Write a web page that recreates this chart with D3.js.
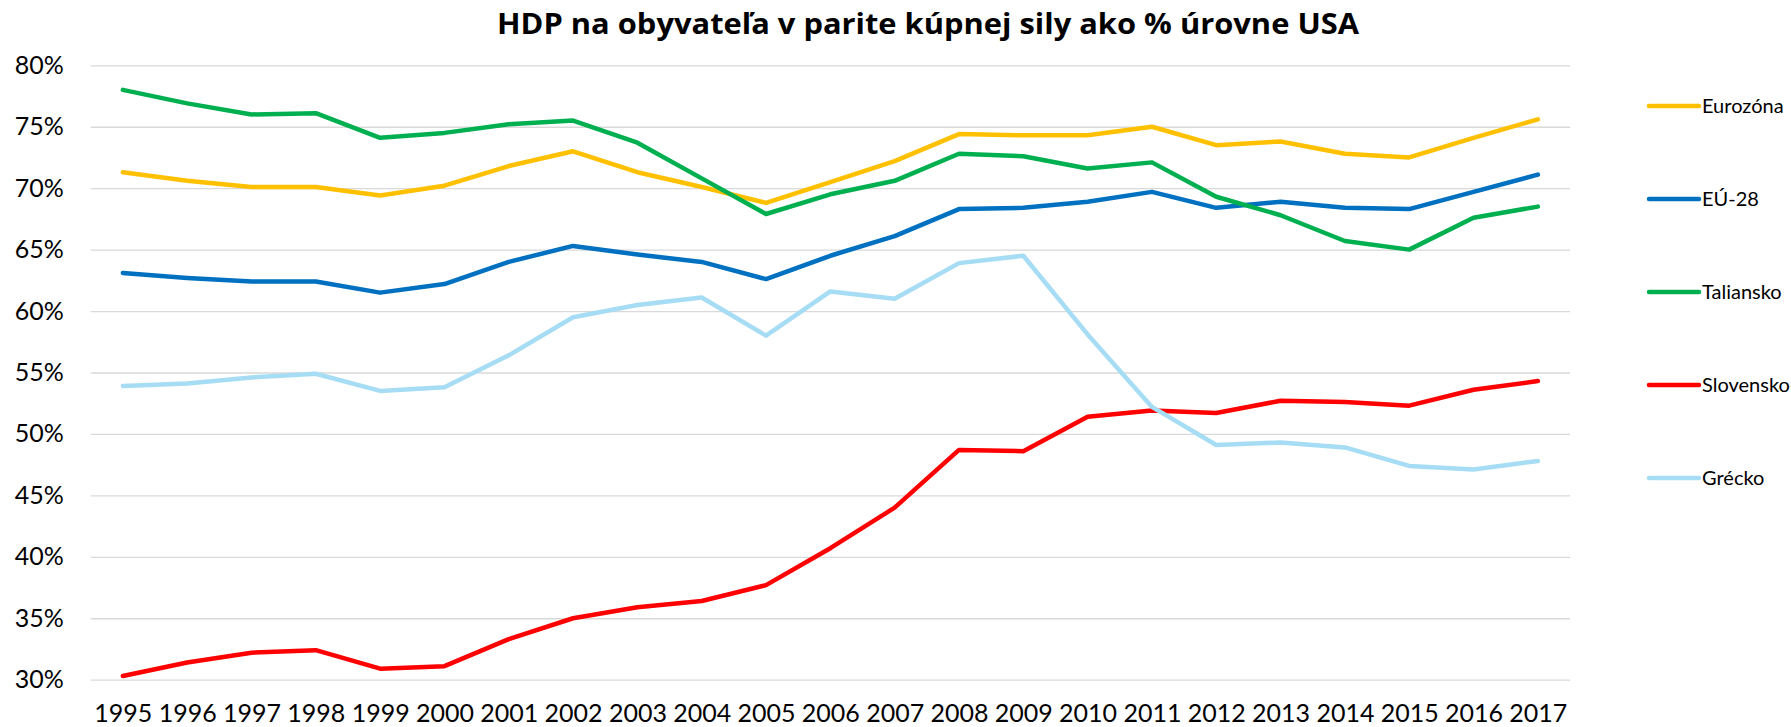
<!DOCTYPE html>
<html lang="sk">

<head>
    <meta charset="utf-8">
    <title>HDP na obyvateľa</title>
    <style>
        body {
            margin: 0;
            background: #fff;
        }

        svg text {
            font-family: Lato, "Open Sans", sans-serif;
            fill: #000;
        }

        .grid line {
            stroke: #d9d9d9;
            stroke-width: 1.3;
        }

        .series {
            fill: none;
            stroke-width: 4.5;
            stroke-linejoin: round;
            stroke-linecap: round;
        }
    </style>
</head>

<body>
    <div id="chart"></div>
    <script src="https://cdn.jsdelivr.net/npm/d3@7"></script>
    <script>
        // values (% of US level)
        var years = ['1995', '1996', '1997', '1998', '1999', '2000', '2001', '2002', '2003', '2004', '2005', '2006',
            '2007', '2008', '2009', '2010', '2011', '2012', '2013', '2014', '2015', '2016', '2017'];
        var eurozona = [71.3, 70.6, 70.1, 70.1, 69.4, 70.2, 71.8, 73.0, 71.3, 70.1, 68.8, 70.5, 72.2, 74.4, 74.3, 74.3, 75.0, 73.5, 73.8, 72.8, 72.5, 74.1, 75.6];
        var eu28 = [63.1, 62.7, 62.4, 62.4, 61.5, 62.2, 64.0, 65.3, 64.6, 64.0, 62.6, 64.5, 66.1, 68.3, 68.4, 68.9, 69.7, 68.4, 68.9, 68.4, 68.3, 69.7, 71.1];
        var taliansko = [78.0, 76.9, 76.0, 76.1, 74.1, 74.5, 75.2, 75.5, 73.7, 70.8, 67.9, 69.5, 70.6, 72.8, 72.6, 71.6, 72.1, 69.3, 67.8, 65.7, 65.0, 67.6, 68.5];
        var slovensko = [30.3, 31.4, 32.2, 32.4, 30.9, 31.1, 33.3, 35.0, 35.9, 36.4, 37.7, 40.7, 44.0, 48.7, 48.6, 51.4, 51.9, 51.7, 52.7, 52.6, 52.3, 53.6, 54.3];
        var grecko = [53.9, 54.1, 54.6, 54.9, 53.5, 53.8, 56.4, 59.5, 60.5, 61.1, 58.0, 61.6, 61.0, 63.9, 64.5, 58.1, 52.2, 49.1, 49.3, 48.9, 47.4, 47.1, 47.8];
        var yTicks = [30, 35, 40, 45, 50, 55, 60, 65, 70, 75, 80];

        var seriesNames = ['Eurozóna', 'EÚ-28', 'Taliansko', 'Slovensko', 'Grécko'];
        var seriesColors = ['#ffc000', '#0070c0', '#00b050', '#ff0000', '#a6ddf4'];
        var seriesValues = [eurozona, eu28, taliansko, slovensko, grecko];

        var width = 1791;
        var height = 727;
        var plotLeft = 90.7;
        var plotRight = 1570;
        var plotTop = 65.3;
        var plotBottom = 679.7;

        var svg = d3.select('#chart')
            .append('svg')
            .attr('width', width)
            .attr('height', height);

        var xScale = d3.scalePoint()
            .domain(years)
            .range([plotLeft, plotRight])
            .padding(0.5);
        var yScale = d3.scaleLinear()
            .domain([30, 80])
            .range([plotBottom, plotTop]);

        // title
        svg.append('text')
            .attr('x', 928)
            .attr('y', 34)
            .attr('text-anchor', 'middle')
            .attr('textLength', 862)
            .attr('lengthAdjust', 'spacingAndGlyphs')
            .style('font-family', '"Open Sans", sans-serif')
            .style('font-size', '29px')
            .style('font-weight', 'bold')
            .text('HDP na obyvateľa v parite kúpnej sily ako % úrovne USA');

        // y axis + gridlines
        var yAxis = d3.axisLeft(yScale)
            .tickValues(yTicks)
            .tickSize(-(plotRight - plotLeft))
            .tickPadding(27)
            .tickFormat(d => d + '%');

        var gy = svg.append('g')
            .attr('class', 'grid')
            .attr('transform', `translate(${plotLeft},0)`)
            .call(yAxis);
        gy.select('.domain').remove();
        gy.selectAll('text')
            .style('font-size', '25px')
            .attr('fill', '#000');

        // x axis
        var xAxis = d3.axisBottom(xScale).tickSize(0).tickPadding(25);
        var gx = svg.append('g')
            .attr('transform', `translate(0,${plotBottom})`)
            .call(xAxis);
        gx.select('.domain').remove();
        gx.selectAll('text')
            .style('font-size', '25px')
            .attr('fill', '#000');

        // lines
        var line = d3.line()
            .x((d, i) => xScale(years[i]))
            .y(d => yScale(d));

        svg.selectAll('.series')
            .data(seriesValues)
            .enter()
            .append('path')
            .attr('class', 'series')
            .attr('stroke', (d, i) => seriesColors[i])
            .attr('d', d => line(d));

        // legend
        var legend = svg.selectAll('.legend')
            .data(seriesNames)
            .enter()
            .append('g')
            .attr('class', 'legend')
            .attr('transform', (d, i) => `translate(1649,${106 + i * 93})`);

        legend.append('line')
            .attr('x1', 0)
            .attr('x2', 50)
            .attr('stroke', (d, i) => seriesColors[i])
            .attr('stroke-width', 4.5)
            .attr('stroke-linecap', 'round');

        legend.append('text')
            .attr('x', 53)
            .attr('dy', '0.35em')
            .style('font-size', '20px')
            .text(d => d);
    </script>
</body>

</html>
